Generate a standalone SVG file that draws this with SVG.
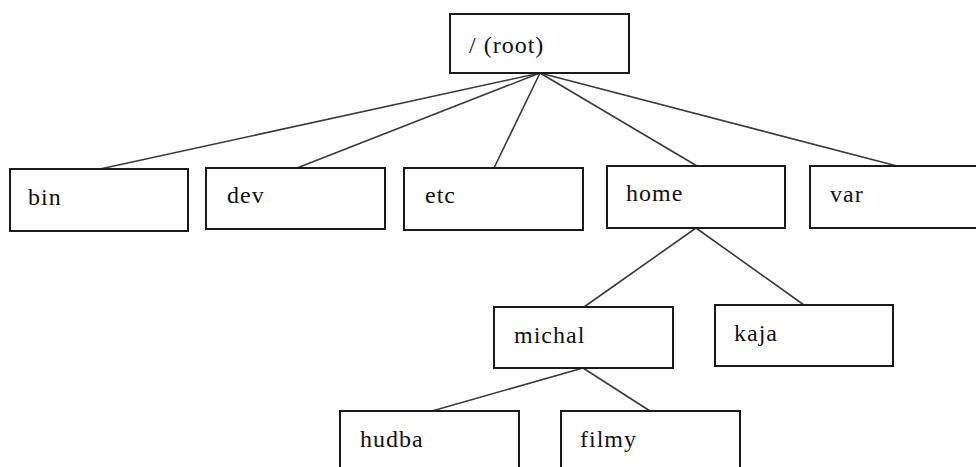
<svg xmlns="http://www.w3.org/2000/svg" width="976" height="467" viewBox="0 0 976 467">
  <style>
    .box { fill: #ffffff; stroke: #1a1a1a; stroke-width: 2; }
    .edge { stroke: #3a3a3a; stroke-width: 1.6; fill: none; }
    .label { font-size: 24px; letter-spacing: 1px; fill: #111111; }
  </style>
  <rect width="976" height="467" fill="#ffffff"/>

  <!-- tree edges -->
  <g id="connectors">
    <line class="edge" x1="540" y1="73" x2="100" y2="169"/>
    <line class="edge" x1="540" y1="73" x2="297" y2="168"/>
    <line class="edge" x1="540" y1="73" x2="494" y2="168"/>
    <line class="edge" x1="540" y1="73" x2="697" y2="166"/>
    <line class="edge" x1="540" y1="73" x2="897" y2="166"/>
    <line class="edge" x1="696" y1="228" x2="584" y2="307"/>
    <line class="edge" x1="696" y1="228" x2="804" y2="305"/>
    <line class="edge" x1="583" y1="368" x2="432" y2="411"/>
    <line class="edge" x1="583" y1="368" x2="650" y2="411"/>
  </g>

  <g font-family="Liberation Serif, DejaVu Serif, serif">
    <g id="root">
      <rect class="box" x="450" y="14" width="179" height="59"/>
      <text class="label" x="469" y="53">/ (root)</text>
    </g>
    <g id="bin">
      <rect class="box" x="10" y="169" width="178" height="62"/>
      <text class="label" x="28" y="205">bin</text>
    </g>
    <g id="dev">
      <rect class="box" x="206" y="168" width="179" height="61"/>
      <text class="label" x="227" y="203">dev</text>
    </g>
    <g id="etc">
      <rect class="box" x="404" y="168" width="179" height="62"/>
      <text class="label" x="425" y="203">etc</text>
    </g>
    <g id="home">
      <rect class="box" x="607" y="166" width="178" height="62"/>
      <text class="label" x="626" y="201">home</text>
    </g>
    <g id="var">
      <rect class="box" x="810" y="166" width="180" height="62"/>
      <text class="label" x="830" y="202">var</text>
    </g>
    <g id="michal">
      <rect class="box" x="494" y="307" width="179" height="61"/>
      <text class="label" x="514" y="343">michal</text>
    </g>
    <g id="kaja">
      <rect class="box" x="715" y="305" width="178" height="61"/>
      <text class="label" x="734" y="341">kaja</text>
    </g>
    <g id="hudba">
      <rect class="box" x="340" y="411" width="179" height="70"/>
      <text class="label" x="360" y="447">hudba</text>
    </g>
    <g id="filmy">
      <rect class="box" x="561" y="411" width="179" height="70"/>
      <text class="label" x="580" y="447">filmy</text>
    </g>
  </g>
</svg>
